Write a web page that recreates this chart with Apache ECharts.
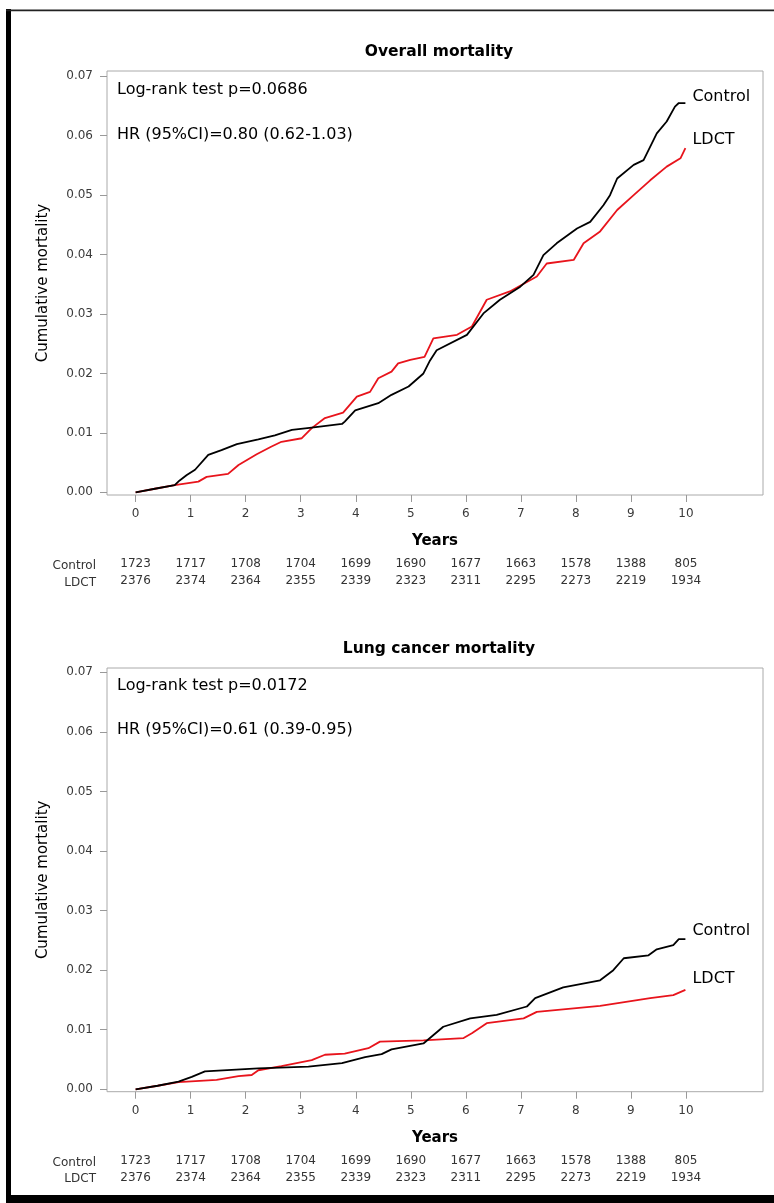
<!DOCTYPE html>
<html>
<head>
<meta charset="utf-8">
<script src="https://cdn.jsdelivr.net/npm/echarts@6/dist/echarts.min.js"></script>
<style>
html,body{margin:0;padding:0;background:#fff;}
#chart{width:774px;height:1203px;}
</style>
</head>
<body>
<div id="chart"></div>
<script>
// ---------- DATA ----------
const xTicks = [0,1,2,3,4,5,6,7,8,9,10];
const yTicks = [0,0.01,0.02,0.03,0.04,0.05,0.06,0.07];
const riskControl = [1723,1717,1708,1704,1699,1690,1677,1663,1578,1388,805];
const riskLDCT    = [2376,2374,2364,2355,2339,2323,2311,2295,2273,2219,1934];

// Overall mortality
const overallControlT = [0,0.35,0.71,0.80,0.93,1.08,1.32,1.56,1.84,2.23,2.53,2.84,3.20,3.75,3.80,3.99,4.41,4.65,4.96,5.23,5.35,5.47,6.02,6.32,6.62,6.99,7.23,7.41,7.65,8.02,8.26,8.50,8.62,8.75,9.05,9.23,9.47,9.65,9.80,9.87,9.99];
const overallControlV = [0,0.0006,0.0012,0.0020,0.0029,0.0038,0.0063,0.0071,0.0081,0.0089,0.0096,0.0105,0.0109,0.0115,0.0119,0.0138,0.0150,0.0164,0.0178,0.0200,0.0222,0.0239,0.0265,0.0301,0.0324,0.0346,0.0366,0.0399,0.0419,0.0444,0.0455,0.0483,0.0500,0.0528,0.0551,0.0559,0.0604,0.0624,0.0649,0.0655,0.0655];
const overallLdctT = [0,0.35,0.71,1.14,1.29,1.68,1.87,2.20,2.47,2.65,3.02,3.20,3.44,3.77,4.02,4.26,4.41,4.65,4.77,4.99,5.25,5.41,5.84,6.11,6.38,6.80,7.29,7.47,7.96,8.14,8.44,8.75,9.05,9.35,9.65,9.90,9.99];
const overallLdctV = [0,0.0006,0.0012,0.0018,0.0026,0.0031,0.0046,0.0064,0.0077,0.0085,0.0091,0.0108,0.0125,0.0134,0.0161,0.0169,0.0192,0.0203,0.0217,0.0223,0.0228,0.0259,0.0265,0.0279,0.0324,0.0338,0.0363,0.0385,0.0391,0.0419,0.0439,0.0475,0.0500,0.0525,0.0548,0.0562,0.0579];

// Lung cancer mortality
const lungControlT = [0,0.40,0.78,1.02,1.26,2.23,3.14,3.75,4.17,4.47,4.65,5.23,5.59,6.08,6.56,7.11,7.26,7.77,8.44,8.68,8.87,9.32,9.47,9.77,9.87,9.99];
const lungControlV = [0,0.0006,0.0013,0.0021,0.0030,0.0035,0.0038,0.0044,0.0054,0.0059,0.0067,0.0077,0.0105,0.0119,0.0125,0.0139,0.0153,0.0171,0.0183,0.0200,0.0220,0.0225,0.0235,0.0242,0.0252,0.0252];
const lungLdctT = [0,0.40,0.78,1.47,1.87,2.11,2.23,2.65,3.20,3.44,3.80,4.23,4.44,5.23,5.96,6.11,6.38,7.05,7.29,8.44,9.35,9.77,9.99];
const lungLdctV = [0,0.0006,0.0012,0.0016,0.0022,0.0024,0.0032,0.0039,0.0049,0.0058,0.0060,0.0069,0.0080,0.0082,0.0086,0.0094,0.0111,0.0119,0.0130,0.0140,0.0153,0.0158,0.0167];

const titles = ['Overall mortality','Lung cancer mortality'];
const notes = [['Log-rank test p=0.0686','HR (95%CI)=0.80 (0.62-1.03)'],['Log-rank test p=0.0172','HR (95%CI)=0.61 (0.39-0.95)']];

// ---------- BUILD ----------
const FONT = 'DejaVu Sans';
const pairs = (t, v) => t.map((x, i) => [x, v[i]]);

const grids = [
  {left:107, top:71, width:656, height:424, ymin:-0.00045, ymax:0.07089},
  {left:107, top:668, width:656, height:423.7, ymin:-0.0004, ymax:0.07072}
];
const XMIN = -0.52, XMAX = 11.4;

const option = {
  backgroundColor:'#fff',
  animation:false,
  title: titles.map((t,i)=>({
    text:t, left:434, top:(i===0?39:636), textAlign:'center',
    textStyle:{fontFamily:FONT, fontWeight:'bold', fontSize:15.5, color:'#000'}
  })),
  grid: grids.map(g=>({left:g.left, top:g.top, width:g.width, height:g.height, show:true, borderColor:'#aaa', borderWidth:1, containLabel:false})),
  xAxis: [],
  yAxis: [],
  series: [],
  graphic: []
};

grids.forEach((g, gi) => {
  // main x axis
  option.xAxis.push({
    type:'value', gridIndex:gi, min:XMIN, max:XMAX, position:'bottom',
    axisLine:{show:false, onZero:false}, splitLine:{show:false},
    axisTick:{show:true, length:7, customValues:xTicks, lineStyle:{color:'#999'}},
    axisLabel:{customValues:xTicks, margin:13, fontSize:12, color:'#3a3a3a', fontFamily:FONT},
    name:'Years', nameLocation:'middle', nameGap:39,
    nameTextStyle:{fontFamily:FONT, fontWeight:'bold', fontSize:15, color:'#000'}
  });
  // at-risk rows
  [[riskControl,50],[riskLDCT,67]].forEach(([arr,off]) => {
    option.xAxis.push({
      type:'value', gridIndex:gi, min:XMIN, max:XMAX, position:'bottom', offset:off,
      axisLine:{show:false, onZero:false}, axisTick:{show:false}, splitLine:{show:false},
      axisLabel:{customValues:xTicks, margin:13, fontSize:12, color:'#333', fontFamily:FONT,
        formatter:(v)=>String(arr[Math.round(v)])}
    });
  });
  option.yAxis.push({
    type:'value', gridIndex:gi, min:g.ymin, max:g.ymax, position:'left',
    axisLine:{show:false, onZero:false}, splitLine:{show:false},
    axisTick:{show:true, length:7, customValues:yTicks, lineStyle:{color:'#999'}},
    axisLabel:{customValues:yTicks, margin:14, fontSize:12, color:'#3a3a3a', fontFamily:FONT,
      formatter:(v)=>v.toFixed(2)},
    name:'Cumulative mortality', nameLocation:'middle', nameGap:56,
    nameTextStyle:{fontFamily:FONT, fontSize:15, color:'#000'}
  });
});

const seriesDefs = [
  {grid:0, name:'Control', data:pairs(overallControlT, overallControlV), color:'#000', off:[0,-6]},
  {grid:0, name:'LDCT', data:pairs(overallLdctT, overallLdctV), color:'#e8141c', off:[0,-8]},
  {grid:1, name:'Control', data:pairs(lungControlT, lungControlV), color:'#000', off:[0,-8]},
  {grid:1, name:'LDCT', data:pairs(lungLdctT, lungLdctV), color:'#e8141c', off:[0,-11]}
];
seriesDefs.forEach(s => {
  option.series.push({
    type:'line', name:s.name, xAxisIndex:s.grid*3, yAxisIndex:s.grid,
    data:s.data, showSymbol:false, symbol:'none', z:s.name==='Control'?3:2,
    lineStyle:{color:s.color, width:1.8},
    endLabel:{show:true, formatter:'{a}', distance:7, offset:s.off,
      fontFamily:FONT, fontSize:16, color:'#000'}
  });
});

// annotation text and at-risk row labels
const noteY = [[89.5,135],[685.5,730]];
const rowY = [[565.5,582.5],[1162.7,1178.7]];
grids.forEach((g, gi) => {
  notes[gi].forEach((t, k) => {
    option.graphic.push({type:'text', z:10, style:{text:t, x:117, y:noteY[gi][k],
      font:'16px "DejaVu Sans"', fill:'#000', align:'left', verticalAlign:'middle', textAlign:'left', textVerticalAlign:'middle'}});
  });
  ['Control','LDCT'].forEach((t, k) => {
    option.graphic.push({type:'text', z:10, style:{text:t, x:96, y:rowY[gi][k],
      font:'12px "DejaVu Sans"', fill:'#333', align:'right', verticalAlign:'middle', textAlign:'right', textVerticalAlign:'middle'}});
  });
});
// page frame
option.graphic.push(
  {type:'rect', z:20, shape:{x:6, y:9, width:5, height:1194}, style:{fill:'#000'}},
  {type:'rect', z:20, shape:{x:6, y:9.5, width:768, height:1.8}, style:{fill:'#222'}},
  {type:'rect', z:20, shape:{x:6, y:1195, width:768, height:8}, style:{fill:'#000'}}
);

const chart = echarts.init(document.getElementById('chart'), null, {renderer:'canvas', width:774, height:1203});
chart.setOption(option);
</script>
</body>
</html>
